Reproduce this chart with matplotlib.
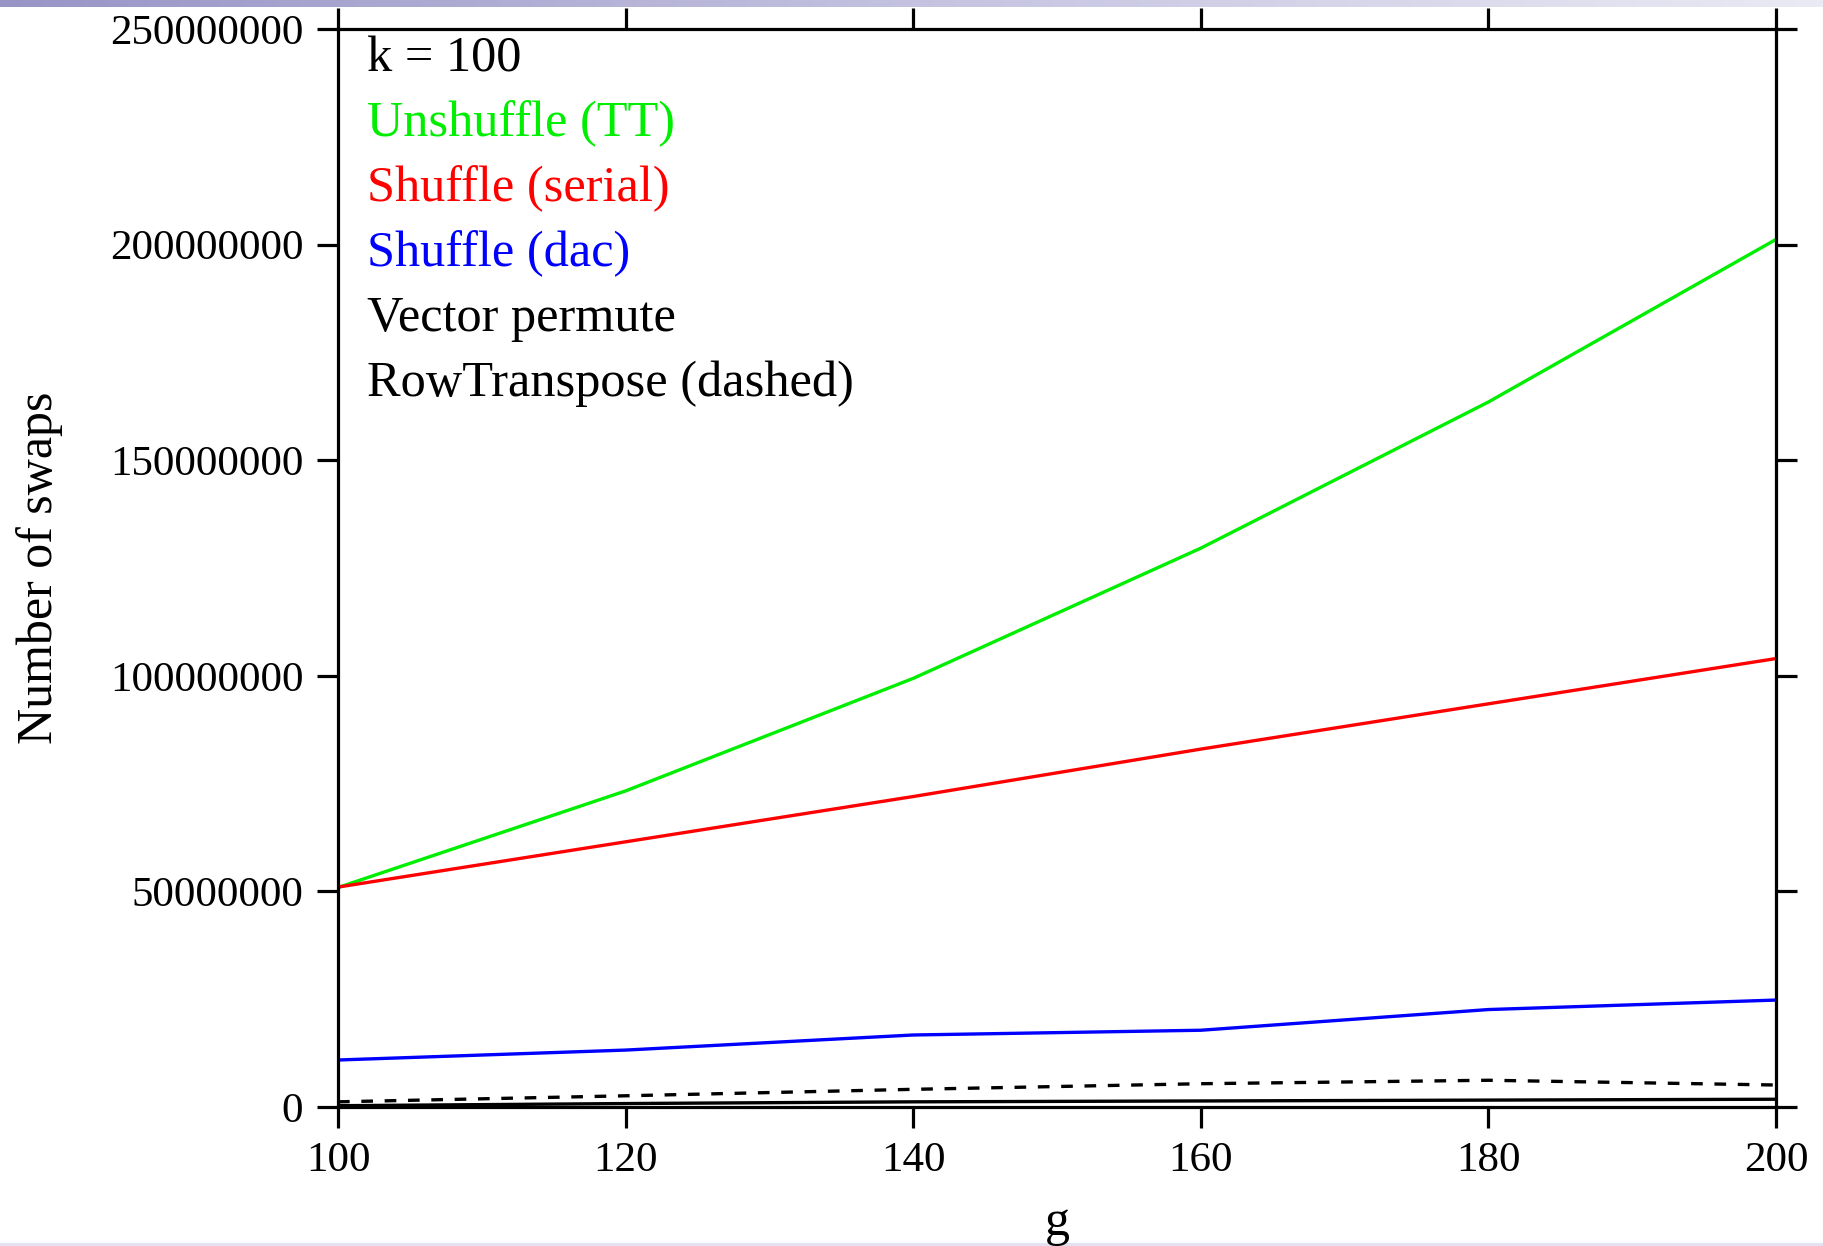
import numpy as np
import matplotlib.pyplot as plt
from matplotlib.colors import LinearSegmentedColormap

# swap counts for k = 100
g_values = [100, 120, 140, 160, 180, 200]
unshuffle_tt = [50.9e6, 73.3e6, 99.4e6, 129.6e6, 163.5e6, 201.2e6]
shuffle_serial = [51.0e6, 61.5e6, 72.0e6, 83.0e6, 93.5e6, 104.0e6]
shuffle_dac = [10.9e6, 13.2e6, 16.7e6, 17.8e6, 22.6e6, 24.8e6]
vector_permute = [0.3e6, 0.8e6, 1.2e6, 1.4e6, 1.6e6, 1.8e6]
row_transpose = [1.2e6, 2.6e6, 4.1e6, 5.4e6, 6.2e6, 5.1e6]

x_ticks = [100, 120, 140, 160, 180, 200]
y_ticks = [0, 50000000, 100000000, 150000000, 200000000, 250000000]
y_tick_labels = ['0', '50000000', '100000000', '150000000', '200000000', '250000000']

legend_lines = [('k = 100', 'black'),
                ('Unshuffle (TT)', '#00ee00'),
                ('Shuffle (serial)', '#ff0000'),
                ('Shuffle (dac)', '#0000ff'),
                ('Vector permute', 'black'),
                ('RowTranspose (dashed)', 'black')]

plt.rcParams['font.family'] = ['Liberation Serif', 'DejaVu Serif']

fig = plt.figure(figsize=(18.23, 12.46), dpi=100)

# slide decoration: gradient strip at top, thin line at bottom
bar = fig.add_axes([0, 1 - 7 / 1246, 1, 7 / 1246])
grad = np.linspace(0, 1, 256).reshape(1, -1)
cmap = LinearSegmentedColormap.from_list('slide', ['#9894c6', '#c4c2e0', '#eaeaf4'])
bar.imshow(grad, aspect='auto', cmap=cmap)
bar.axis('off')
bot = fig.add_axes([0, 0, 1, 3 / 1246])
bot.set_facecolor('#e4e2f0')
bot.set_xticks([])
bot.set_yticks([])
for s in bot.spines.values():
    s.set_visible(False)

ax = fig.add_axes([338 / 1823, 1 - 1107 / 1246, (1776 - 338) / 1823, (1107 - 29) / 1246])

lw = 2.4
ax.plot(g_values, unshuffle_tt, color='#00ee00', lw=lw)
ax.plot(g_values, shuffle_serial, color='#ff0000', lw=lw)
ax.plot(g_values, shuffle_dac, color='#0000ff', lw=lw)
ax.plot(g_values, vector_permute, color='black', lw=lw)
ax.plot(g_values, row_transpose, color='black', lw=lw, dashes=(3.5, 3.5))

ax.set_xlim(100, 200)
ax.set_ylim(0, 250000000)
ax.set_xticks(x_ticks)
ax.set_yticks(y_ticks)
ax.set_yticklabels(y_tick_labels)

for s in ax.spines.values():
    s.set_linewidth(2.3)
ax.tick_params(which='both', direction='out', length=15, width=2.3,
               top=True, right=True, labelsize=31, pad=10)

ax.set_xlabel('g', fontsize=36, labelpad=14)
ax.set_ylabel('Number of swaps', fontsize=36, labelpad=34)

for i, (txt, col) in enumerate(legend_lines):
    ax.text(0.020, 0.972 - i * 0.0603, txt, color=col, fontsize=36.3,
            transform=ax.transAxes, ha='left', va='center')

fig.savefig('out.png', dpi=100)
